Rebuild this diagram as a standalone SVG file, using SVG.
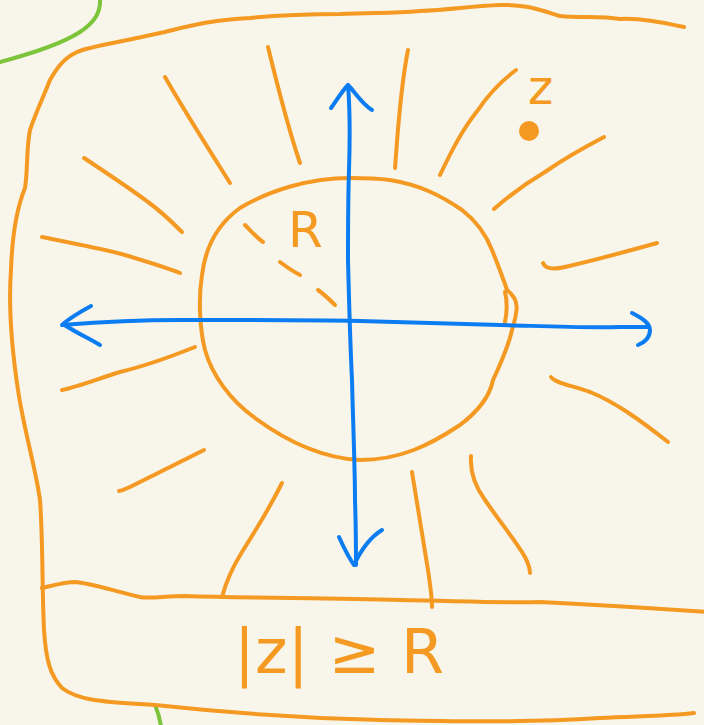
<svg xmlns="http://www.w3.org/2000/svg" width="704" height="725" viewBox="0 0 704 725">
<style>
.o{fill:none;stroke:#f49a22;stroke-width:4;stroke-linecap:round;stroke-linejoin:round}
.b{fill:none;stroke:#0b7cf2;stroke-width:4;stroke-linecap:round;stroke-linejoin:round}
.g{fill:none;stroke:#7cc43a;stroke-width:4;stroke-linecap:round}
.t{fill:#f49a22;font-family:"DejaVu Sans","Liberation Sans",sans-serif;font-weight:normal}
</style>
<rect width="704" height="725" fill="#f8f5ea"/>
<g id="green">
<path class="g" d="M0,62 C30,54 60,45 80,32 C95,22 101,12 100,-2"/>
<path class="g" d="M155,705 C158,712 160,718 161,727"/>
</g>
<g id="frame">
<path class="o" d="M684,27 C660,22 640,18 620,19 C600,16 580,18 560,16 C540,10 525,4 500,5 C470,6 450,10 420,11 C390,14 370,12 340,14 C300,14 280,15 250,18 C210,20 190,26 160,33 C130,40 110,43 90,48 C70,52 60,62 50,80 C42,100 35,115 30,130 C26,150 28,170 25,188 C16,210 12,240 11,270 C8,310 12,350 18,390 C24,430 36,470 40,500 C43,540 42,590 44,630 C46,660 50,675 62,688 C80,702 110,702 155,705 C220,712 300,718 380,720 C450,721 520,723 600,718 C640,716 670,716 694,713"/>
<path class="o" d="M42,588 C55,585 65,582 75,582 C90,583 110,590 140,597 C150,599 165,596 185,596 C250,598 320,598 400,600 C460,601 500,603 540,602 C600,605 650,608 706,612"/>
</g>
<g id="circle">
<path class="o" d="M350,178 C310,178 270,190 240,208 C215,226 205,250 202,275 C198,300 200,330 205,350 C212,375 230,400 255,418 C285,440 320,458 360,460 C400,460 430,445 460,425 C480,410 490,395 493,380 C500,365 508,348 512,330 C518,310 520,300 507,290 C502,275 498,265 492,250 C485,232 475,220 462,210 C440,195 420,185 390,180 C375,178 362,178 350,178"/>
<path class="o" d="M505,292 C507,300 507,312 505,322"/>
</g>
<g id="rays">
<path class="o" d="M165,77 C185,112 208,148 230,183"/>
<path class="o" d="M268,47 C278,88 288,128 300,163"/>
<path class="o" d="M408,50 C400,90 398,130 395,168"/>
<path class="o" d="M516,70 C500,82 488,95 478,110 C462,130 452,150 440,175"/>
<path class="o" d="M604,137 C585,147 565,158 545,172 C528,182 510,195 494,209"/>
<path class="o" d="M84,158 C105,172 128,187 148,202 C162,212 172,222 182,232"/>
<path class="o" d="M42,237 C70,243 100,248 125,255 C145,261 165,267 180,273"/>
<path class="o" d="M657,243 C625,252 595,260 565,267 C552,270 545,268 543,263"/>
<path class="o" d="M195,347 C170,357 145,366 120,372 C100,378 80,386 62,390"/>
<path class="o" d="M551,377 C555,383 570,385 590,392 C615,402 640,420 668,442"/>
<path class="o" d="M204,450 C180,462 160,472 140,482 C130,487 125,490 119,491"/>
<path class="o" d="M282,483 C270,507 256,530 242,552 C232,568 226,582 222,597"/>
<path class="o" d="M412,472 C418,510 424,545 428,570 C431,590 432,600 432,607"/>
<path class="o" d="M471,456 C470,470 474,485 485,500 C500,522 515,540 525,557 C529,565 530,570 530,573"/>
</g>
<g id="radius">
<path class="o" d="M245,225 C252,232 257,238 263,242"/>
<path class="o" d="M280,262 C288,268 294,272 300,275"/>
<path class="o" d="M318,290 C325,295 330,300 335,305"/>
</g>
<g id="axes">
<path class="b" d="M62,325 C100,322 130,320 180,320 C250,320 300,320 360,321 C420,323 470,324 500,325 C540,326 580,328 620,327 C635,327 643,327 648,327"/>
<path class="b" d="M632,313 C642,318 650,323 650,330 C650,338 645,342 638,345"/>
<path class="b" d="M91,306 C80,312 70,318 63,324 C75,332 88,338 100,345"/>
<path class="b" d="M348,85 C350,110 350,140 349,170 C348,200 348,230 348,260 C349,300 350,340 352,380 C353,420 355,470 355,500 C356,530 356,550 356,565"/>
<path class="b" d="M331,108 C338,98 343,90 348,85 C355,92 362,104 372,110"/>
<path class="b" d="M339,537 C344,548 349,558 354,565 C360,552 369,538 382,530"/>
</g>
<g id="point">
<circle cx="529" cy="131" r="10" fill="#f49a22"/>
<text class="t" x="528" y="104" font-size="48">z</text>
</g>
<g id="labels">
<text class="t" x="288" y="247" font-size="50">R</text>
<text class="t" x="234" y="673" font-size="62" textLength="210" lengthAdjust="spacing">|z| ≥ R</text>
</g>
</svg>
